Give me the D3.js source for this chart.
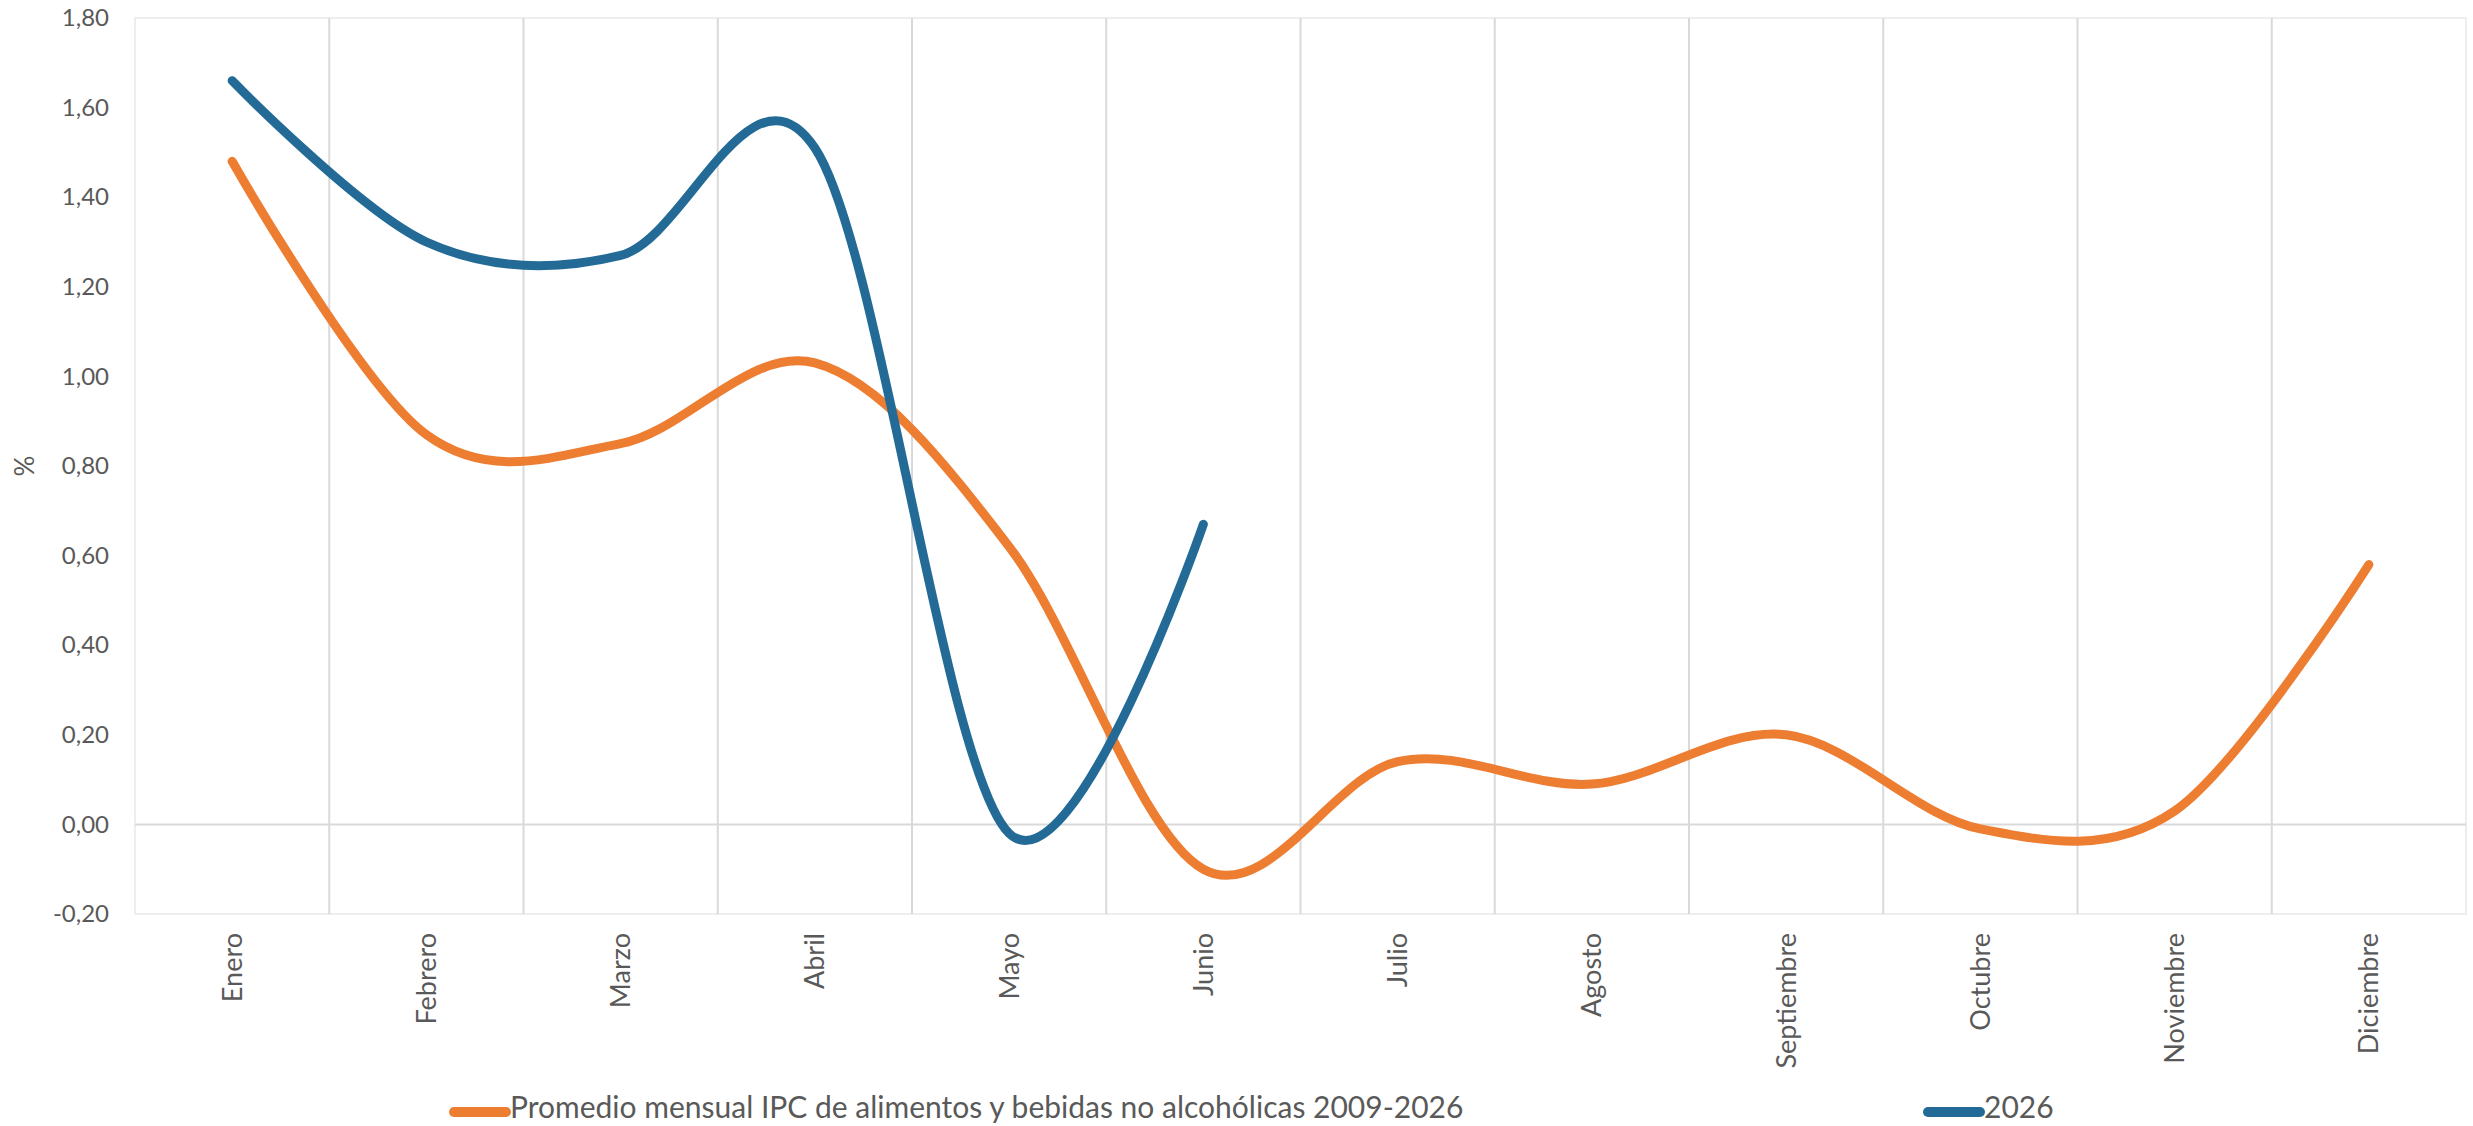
<!DOCTYPE html>
<html>
<head>
<meta charset="utf-8">
<script src="https://cdn.jsdelivr.net/npm/d3@7"></script>
<style>
	body { margin: 0; background: #fff; }
	text { font-family: Lato, "Noto Sans", sans-serif; fill: #595959; }
</style>
</head>
<body>
<div id="chart"></div>
<script>
const months = ["Enero", "Febrero", "Marzo", "Abril", "Mayo", "Junio", "Julio", "Agosto", "Septiembre", "Octubre", "Noviembre", "Diciembre"];
const promedio = [1.48, 0.87, 0.85, 1.03, 0.62, -0.10, 0.14, 0.09, 0.20, -0.01, 0.03, 0.58];
const y2026 = [1.66, 1.30, 1.27, 1.51, -0.02, 0.67];
const yTicks = [-0.2, 0, 0.2, 0.4, 0.6, 0.8, 1.0, 1.2, 1.4, 1.6, 1.8];
const seriesNames = ["Promedio mensual IPC de alimentos y bebidas no alcohólicas 2009-2026", "2026"];
const colors = ["#ED7D31", "#236B96"];

const W = 2473, H = 1126;
const margin = {top: 18, right: 7, bottom: 212, left: 135};
const width = W - margin.left - margin.right;
const height = H - margin.top - margin.bottom;

const svg = d3.select("#chart")
	.append("svg")
		.attr("width", W)
		.attr("height", H);

const g = svg.append("g")
	.attr("transform", `translate(${margin.left}, ${margin.top})`);

const x = d3.scaleBand()
	.domain(months)
	.range([0, width]);

const y = d3.scaleLinear()
	.domain([-0.2, 1.8])
	.range([height, 0]);

// plot border
g.append("rect")
	.attr("width", width)
	.attr("height", height)
	.attr("fill", "none")
	.attr("stroke", "#eeeeee")
	.attr("stroke-width", 2);

// vertical gridlines between categories
g.append("g")
	.selectAll("line")
	.data(months.slice(1))
	.join("line")
		.attr("x1", d => x(d))
		.attr("x2", d => x(d))
		.attr("y1", 0)
		.attr("y2", height)
		.attr("stroke", "#d9d9d9")
		.attr("stroke-width", 2);

// zero line
g.append("line")
	.attr("x1", 0)
	.attr("x2", width)
	.attr("y1", y(0))
	.attr("y2", y(0))
	.attr("stroke", "#d9d9d9")
	.attr("stroke-width", 2);

// y axis labels
const yAxis = g.append("g")
	.call(d3.axisLeft(y).tickValues(yTicks).tickSize(0).tickPadding(26)
		.tickFormat(d => d.toFixed(2).replace(".", ",")));
yAxis.select(".domain").remove();
yAxis.selectAll("text")
	.style("font-size", "24px")
	.attr("fill", "#595959");

// x axis labels
const xAxis = g.append("g")
	.attr("transform", `translate(0, ${height})`)
	.call(d3.axisBottom(x).tickSize(0));
xAxis.select(".domain").remove();
xAxis.selectAll("text")
	.style("font-size", "27px")
	.attr("fill", "#595959")
	.attr("text-anchor", "end")
	.attr("transform", "rotate(-90)")
	.attr("x", -19)
	.attr("y", 0)
	.attr("dy", "0.35em");

// y title
svg.append("text")
	.attr("transform", `translate(25, ${margin.top + y(0.8)}) rotate(-90)`)
	.attr("text-anchor", "middle")
	.attr("dy", "0.35em")
	.style("font-size", "26px")
	.text("%");

const line = d3.line()
	.x((d, i) => x(months[i]) + x.bandwidth() / 2)
	.y(d => y(d))
	.curve(d3.curveCardinal.tension(0));

[promedio, y2026].forEach((values, k) => {
	g.append("path")
		.datum(values)
		.attr("fill", "none")
		.attr("stroke", colors[k])
		.attr("stroke-width", 9)
		.attr("stroke-linecap", "round")
		.attr("stroke-linejoin", "round")
		.attr("d", line);
});

// legend
const legendX = [450, 1924];
const legendY = 1112;
const legend = svg.append("g")
	.selectAll("g")
	.data(seriesNames)
	.join("g")
		.attr("transform", (d, i) => `translate(${legendX[i]}, ${legendY})`);

legend.append("line")
	.attr("x1", 4)
	.attr("x2", 56)
	.attr("stroke", (d, i) => colors[i])
	.attr("stroke-width", 10)
	.attr("stroke-linecap", "round");

legend.append("text")
	.attr("x", 60)
	.attr("y", 6)
	.style("font-size", "30px")
	.text(d => d);
</script>
</body>
</html>
